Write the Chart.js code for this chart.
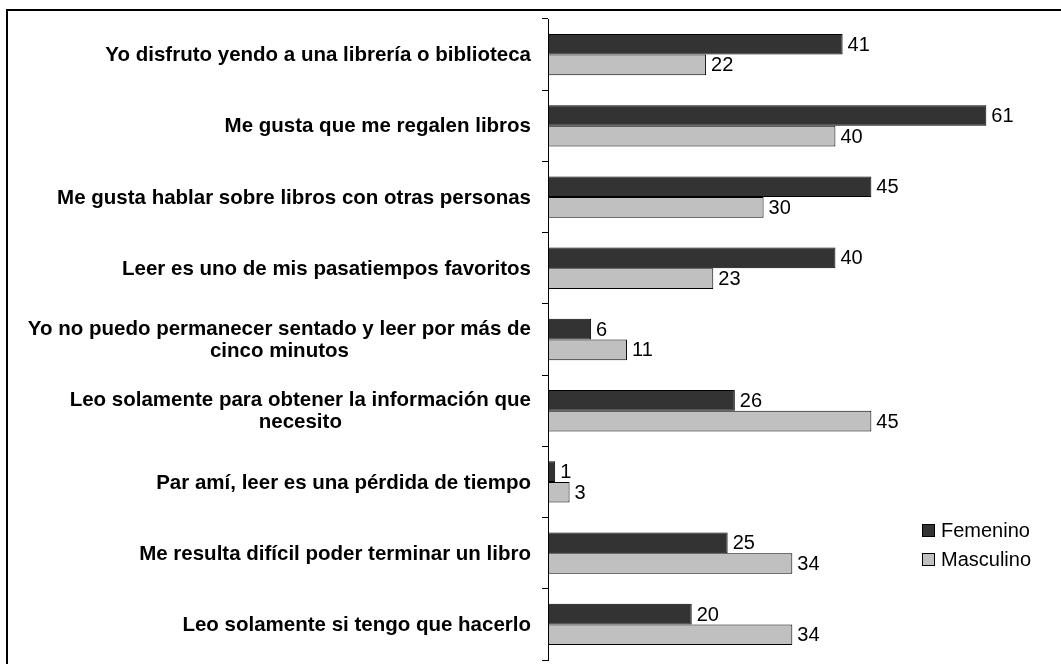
<!DOCTYPE html>
<html>
<head>
<meta charset="utf-8">
<script src="https://cdn.jsdelivr.net/npm/chart.js@4"></script>
<style>
  html, body { margin: 0; padding: 0; background: #fff; overflow: hidden; }
  #frame { position: absolute; left: 6px; top: 9px; width: 1100px; height: 700px; border: 2px solid #000; }
  #wrap { position: absolute; left: 0; top: 0; width: 1061px; height: 664px; }
</style>
</head>
<body>
<div id="frame"></div>
<div id="wrap"><canvas id="barras"></canvas></div>
<script>
const categorias = [
  ['Yo disfruto yendo a una librería o biblioteca'],
  ['Me gusta que me regalen libros'],
  ['Me gusta hablar sobre libros con otras personas'],
  ['Leer es uno de mis pasatiempos favoritos'],
  ['Yo no puedo permanecer sentado y leer por más de', 'cinco minutos'],
  ['Leo solamente para obtener la información que', 'necesito'],
  ['Par amí, leer es una pérdida de tiempo'],
  ['Me resulta difícil poder terminar un libro'],
  ['Leo solamente si tengo que hacerlo']
];
const femenino = [41, 61, 45, 40, 6, 26, 1, 25, 20];
const masculino = [22, 40, 30, 23, 11, 45, 3, 34, 34];

const fuente = "'Liberation Sans', Arial, sans-serif";

// etiquetas de valor, categorias y leyenda dibujadas a mano
const dibujos = {
  id: 'dibujos',
  afterDatasetsDraw(chart) {
    const ctx = chart.ctx;
    ctx.save();
    ctx.fillStyle = '#000';
    ctx.font = '20px ' + fuente;
    ctx.textBaseline = 'middle';
    ctx.textAlign = 'left';
    chart.data.datasets.forEach((ds, i) => {
      chart.getDatasetMeta(i).data.forEach((bar, j) => {
        ctx.fillText(ds.data[j], bar.x + 5, bar.y + 1);
      });
    });

    // categorias: bloque alineado a la derecha, lineas centradas
    const y = chart.scales.y;
    ctx.font = 'bold 20.5px ' + fuente;
    ctx.textAlign = 'center';
    categorias.forEach((lineas, i) => {
      const yc = y.getPixelForValue(i);
      const ancho = Math.max(...lineas.map(l => ctx.measureText(l).width));
      const xc = 531 - ancho / 2;
      const alto = 22;
      lineas.forEach((l, k) => {
        ctx.fillText(l, xc, yc + 1 + (k - (lineas.length - 1) / 2) * alto);
      });
    });

    // leyenda
    ctx.font = '20px ' + fuente;
    ctx.textAlign = 'left';
    chart.data.datasets.forEach((ds, i) => {
      const ly = 530 + i * 29;
      ctx.fillStyle = ds.backgroundColor;
      ctx.fillRect(922, ly - 6, 12, 12);
      ctx.strokeStyle = '#000';
      ctx.lineWidth = 1;
      ctx.strokeRect(922.5, ly - 5.5, 12, 12);
      ctx.fillStyle = '#000';
      ctx.fillText(ds.label, 941, ly + 1);
    });
    ctx.restore();
  }
};

const data = {
  labels: categorias,
  datasets: [{
    label: 'Femenino',
    data: femenino,
    backgroundColor: '#333333',
    borderColor: '#000',
    borderWidth: 1,
    borderSkipped: false
  }, {
    label: 'Masculino',
    data: masculino,
    backgroundColor: '#c0c0c0',
    borderColor: '#000',
    borderWidth: 1,
    borderSkipped: false
  }]
};

const config = {
  type: 'bar',
  data: data,
  options: {
    indexAxis: 'y',
    responsive: false,
    animation: false,
    categoryPercentage: 0.58,
    barPercentage: 1,
    layout: { padding: { top: 19, bottom: 4, right: 10, left: 0 } },
    scales: {
      x: { min: 0, max: 70, display: false },
      y: {
        afterFit: (scale) => { scale.width = 548; },
        ticks: { display: false },
        grid: { drawOnChartArea: false, drawTicks: true, tickLength: 6, color: '#000', offset: true },
        border: { display: true, color: '#000', width: 1 }
      }
    },
    plugins: {
      legend: { display: false },
      tooltip: { enabled: false }
    }
  },
  plugins: [dibujos]
};

const canvas = document.getElementById('barras');
canvas.width = 1061;
canvas.height = 664;
const barChart = new Chart(canvas, config);
</script>
</body>
</html>
